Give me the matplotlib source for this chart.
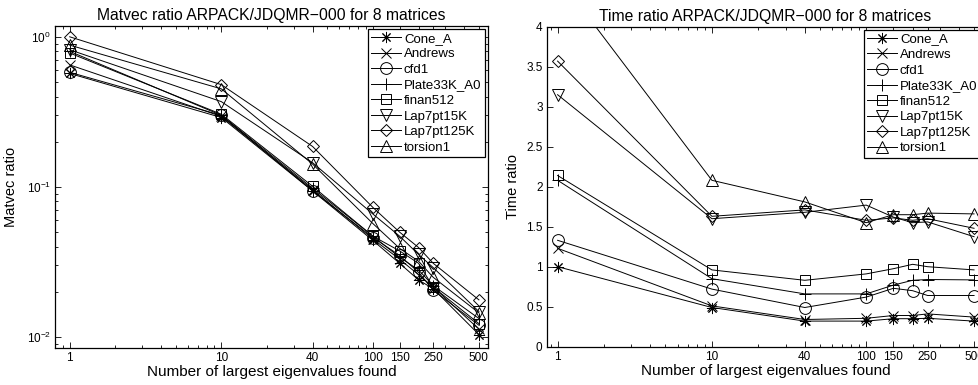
import matplotlib
matplotlib.use("Agg")
import matplotlib.pyplot as plt
from matplotlib.ticker import FixedLocator, FixedFormatter, LogLocator, NullFormatter, MultipleLocator, FuncFormatter

plt.rcParams['font.family'] = ['Liberation Sans', 'DejaVu Sans']
plt.rcParams['mathtext.fontset'] = 'custom'
plt.rcParams['mathtext.rm'] = 'Liberation Sans'

nev = [1, 10, 40, 100, 150, 200, 250, 500]
xticks = [1, 10, 40, 100, 150, 250, 500]
xticklabels = ['1', '10', '40', '100', '150', '250', '500']
names = ['Cone_A', 'Andrews', 'cfd1', 'Plate33K_A0', 'finan512',
         'Lap7pt15K', 'Lap7pt125K', 'torsion1']

# Matvec ratio
mv_cone = [0.57, 0.29, 0.094, 0.044, 0.031, 0.024, 0.021, 0.0104]
mv_andrews = [0.65, 0.295, 0.096, 0.045, 0.033, 0.026, 0.0215, 0.0113]
mv_cfd1 = [0.58, 0.30, 0.094, 0.046, 0.035, 0.027, 0.0205, 0.0120]
mv_plate = [0.80, 0.30, 0.098, 0.047, 0.034, 0.028, 0.022, 0.0133]
mv_finan = [0.78, 0.305, 0.101, 0.047, 0.0375, 0.031, 0.0215, 0.0123]
mv_lap15 = [0.82, 0.37, 0.145, 0.066, 0.047, 0.0355, 0.029, 0.0148]
mv_lap125 = [1.0, 0.48, 0.186, 0.073, 0.050, 0.0395, 0.031, 0.0177]
mv_torsion = [0.88, 0.45, 0.142, 0.057, 0.039, 0.032, 0.025, 0.0145]

# Time ratio
t_cone = [1.0, 0.49, 0.32, 0.32, 0.35, 0.35, 0.355, 0.32]
t_andrews = [1.23, 0.51, 0.34, 0.355, 0.39, 0.39, 0.41, 0.37]
t_cfd1 = [1.33, 0.72, 0.49, 0.62, 0.73, 0.70, 0.64, 0.64]
t_plate = [2.08, 0.85, 0.66, 0.66, 0.77, 0.83, 0.84, 0.835]
t_finan = [2.14, 0.96, 0.83, 0.91, 0.975, 1.03, 1.00, 0.96]
t_lap15 = [3.15, 1.60, 1.68, 1.77, 1.62, 1.55, 1.56, 1.375]
t_lap125 = [3.57, 1.63, 1.71, 1.58, 1.61, 1.58, 1.60, 1.48]
t_torsion = [4.63, 2.08, 1.81, 1.55, 1.65, 1.65, 1.67, 1.66]

mv_series = [mv_cone, mv_andrews, mv_cfd1, mv_plate, mv_finan, mv_lap15, mv_lap125, mv_torsion]
t_series = [t_cone, t_andrews, t_cfd1, t_plate, t_finan, t_lap15, t_lap125, t_torsion]

markers = [(8, 2, 0), 'x', 'o', '+', 's', 'v', 'D', '^']
msizes = [8, 7, 8.5, 9, 7, 9, 6.5, 9]

W, H = 979, 385
fig = plt.figure(figsize=(W / 100, H / 100), dpi=100)

def px(l, r, t, b):
    return [l / W, 1 - b / H, (r - l) / W, (b - t) / H]

ax1 = fig.add_axes(px(55, 488, 26, 347.7))
ax2 = fig.add_axes(px(546.7, 984, 26.7, 346.7))

for ax, series in ((ax1, mv_series), (ax2, t_series)):
    for s, name, m, ms in zip(series, names, markers, msizes):
        ax.plot(nev, s, color='black', lw=0.7, marker=m, markersize=ms,
                markerfacecolor='none', markeredgecolor='black', markeredgewidth=0.7,
                label=name)
    ax.set_xscale('log')
    ax.xaxis.set_major_locator(FixedLocator(xticks))
    ax.xaxis.set_major_formatter(FixedFormatter(xticklabels))
    ax.xaxis.set_minor_locator(LogLocator(base=10, subs=range(2, 10)))
    ax.xaxis.set_minor_formatter(NullFormatter())
    ax.tick_params(which='both', direction='in', top=True, right=True, labelsize=8.5, pad=3)
    ax.tick_params(which='major', length=4, width=0.6)
    ax.tick_params(which='minor', length=2.2, width=0.6)
    for sp in ax.spines.values():
        sp.set_linewidth(0.9)
    ax.set_xlabel('Number of largest eigenvalues found', fontsize=11, labelpad=1)
    leg = ax.legend(loc='upper right', fontsize=9.5, handlelength=2.3, handletextpad=0.2,
                    labelspacing=0.25, borderpad=0.25, borderaxespad=0.25,
                    fancybox=False, framealpha=1, edgecolor='black')
    leg.get_frame().set_linewidth(0.9)

ax1.set_xlim(0.8, 574)
ax1.set_yscale('log')
ax1.set_ylim(0.0085, 1.18)
ax1.set_ylabel('Matvec ratio', fontsize=10.5, labelpad=6)
ax1.set_title('Matvec ratio ARPACK/JDQMR\u2212000 for 8 matrices', fontsize=11.3, pad=4)

ax2.set_xlim(0.85, 580)
ax2.set_ylim(0, 4)
ax2.yaxis.set_major_locator(MultipleLocator(0.5))
ax2.yaxis.set_major_formatter(FuncFormatter(lambda v, p: ('%g' % v)))
ax2.set_ylabel('Time ratio', fontsize=10.5, labelpad=4)
ax2.set_title('Time ratio ARPACK/JDQMR\u2212000 for 8 matrices', fontsize=11.3, pad=4)

fig.savefig('out.png', dpi=100)
